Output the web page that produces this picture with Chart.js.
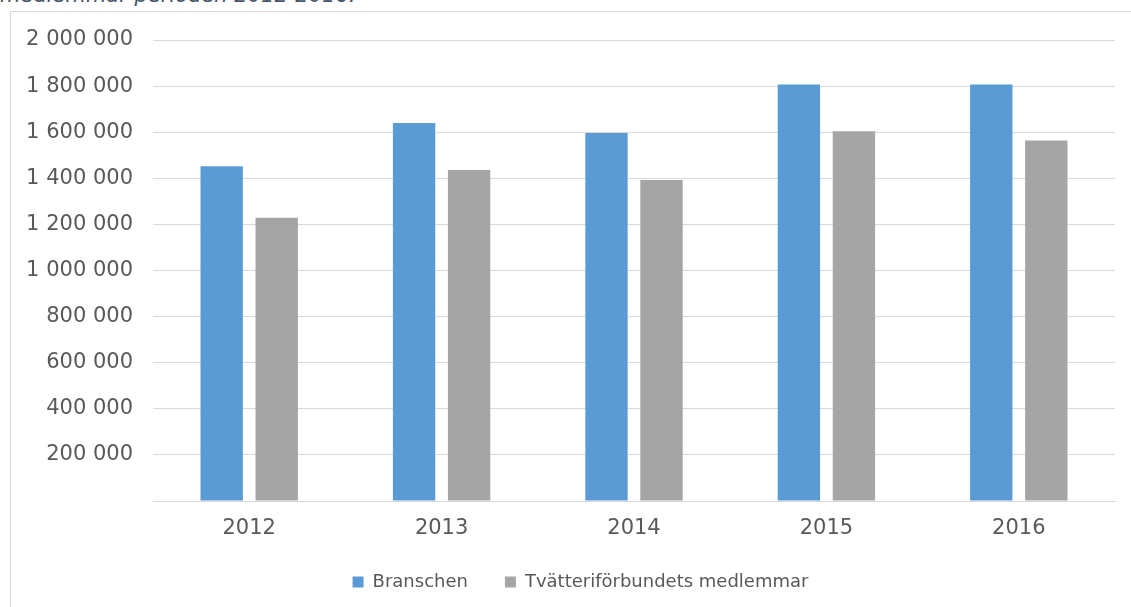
<!DOCTYPE html>
<html>
<head>
<meta charset="utf-8">
<script src="https://cdn.jsdelivr.net/npm/chart.js@4.4.1/dist/chart.umd.min.js"></script>
<style>
  html, body { margin: 0; padding: 0; width: 1131px; height: 607px; overflow: hidden; background: #fff; }
  #frame { position: absolute; left: 10px; top: 11px; width: 1200px; height: 700px; border: 1px solid #d9d9d9; box-sizing: border-box; }
  #caption { position: absolute; left: 0px; top: -15px; font-family: "DejaVu Sans", sans-serif; font-style: italic; font-size: 21px; line-height: 21px; color: #44546A; white-space: nowrap; }
  #wrap { position: absolute; left: 10px; top: 0px; width: 1178px; height: 607px; }
</style>
</head>
<body>
<div id="caption">medlemmar perioden 2012-2016.</div>
<div id="frame"></div>
<div id="wrap"><canvas id="c"></canvas></div>
<script>
const categories = ['2012', '2013', '2014', '2015', '2016'];
const seriesNames = ['Branschen', 'Tvätteriförbundets medlemmar'];
const branschen = [1452000, 1640000, 1597000, 1807000, 1807000];
const medlemmar = [1229000, 1436000, 1393000, 1604000, 1564000];
const yTicks = [0, 200000, 400000, 600000, 800000, 1000000, 1200000, 1400000, 1600000, 1800000, 2000000];

const fmt = v => v.toString().replace(/\B(?=(\d{3})+(?!\d))/g, ' ');
const FONT = '"DejaVu Sans", sans-serif';

const shiftLegend = {
  id: 'shiftLegend',
  afterLayout(chart) {
    const l = chart.legend;
    if (l) { l.left += 18; l.right += 18; }
  }
};

new Chart(document.getElementById('c'), {
  type: 'bar',
  data: {
    labels: categories,
    datasets: [
      { label: seriesNames[0], data: branschen, backgroundColor: '#5B9BD5', borderWidth: 0,
        categoryPercentage: 0.572, barPercentage: 0.77 },
      { label: seriesNames[1], data: medlemmar, backgroundColor: '#A5A5A5', borderWidth: 0,
        categoryPercentage: 0.572, barPercentage: 0.77 }
    ]
  },
  plugins: [shiftLegend],
  options: {
    responsive: true,
    maintainAspectRatio: false,
    animation: false,
    devicePixelRatio: 1,
    layout: { padding: { top: 40, right: 73, bottom: 6, left: 0 } },
    plugins: {
      tooltip: { enabled: false },
      legend: {
        position: 'bottom',
        align: 'center',
        labels: {
          boxWidth: 11, boxHeight: 11, padding: 37,
          color: '#595959',
          font: { family: FONT, size: 18 }
        }
      }
    },
    scales: {
      x: {
        grid: { display: false, drawTicks: false },
        border: { display: true, color: '#d9d9d9', width: 1 },
        ticks: { color: '#595959', font: { family: FONT, size: 21 }, padding: 15, maxRotation: 0 },
        afterFit: s => { s.height = 35; }
      },
      y: {
        min: 0, max: 2000000,
        afterBuildTicks: s => { s.ticks = yTicks.map(v => ({ value: v })); },
        grid: { color: '#d9d9d9', lineWidth: 1, drawTicks: false },
        border: { display: false },
        ticks: {
          color: '#595959', font: { family: FONT, size: 21 }, padding: 20,
          callback: v => v === 0 ? '' : fmt(v)
        },
        afterFit: s => { s.width = 143; }
      }
    }
  }
});
</script>
</body>
</html>
